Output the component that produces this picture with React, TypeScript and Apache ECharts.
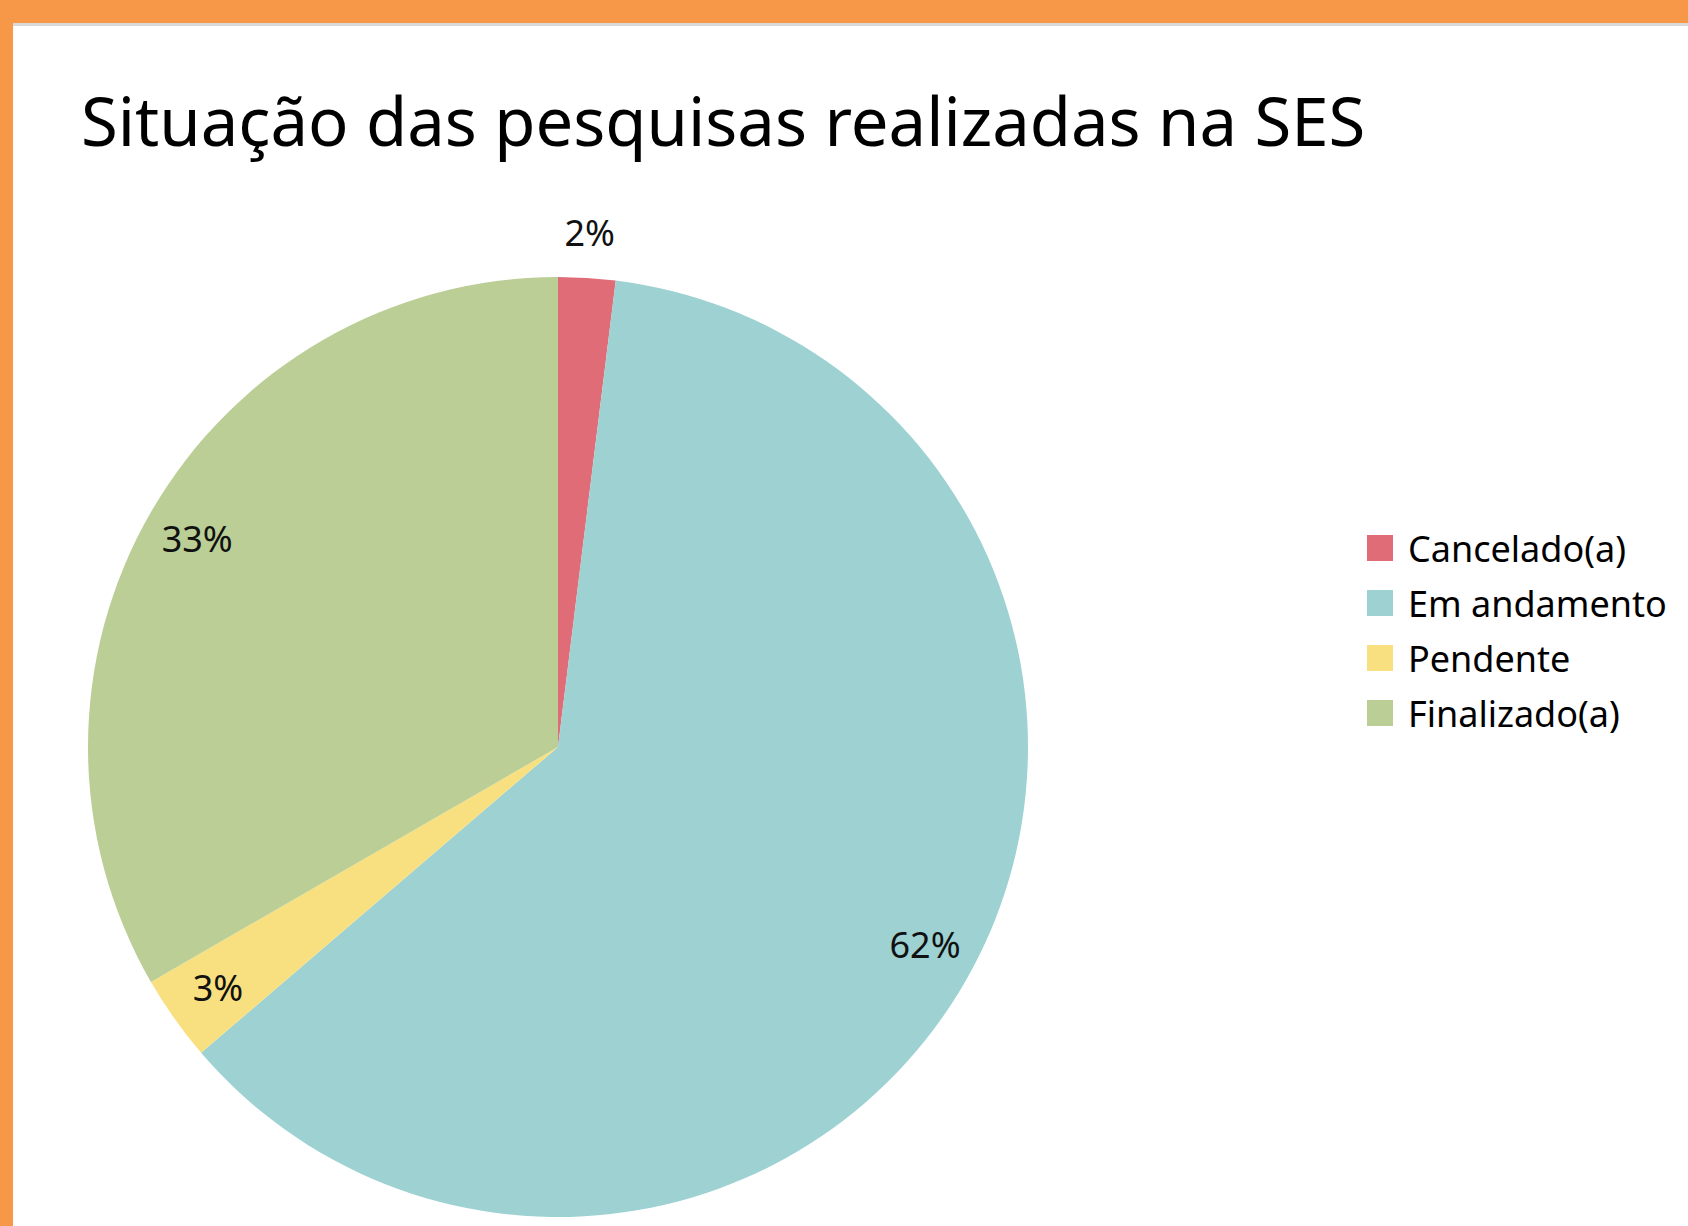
import React, { useEffect, useRef } from "react";
import * as echarts from "echarts";

const categories = ["Cancelado(a)", "Em andamento", "Pendente", "Finalizado(a)"];
const counts = [2, 63, 3, 34];
const labels = ["2%", "62%", "3%", "33%"];
const colors = ["#E06C78", "#9DD1D2", "#F8E080", "#BACE96"];
const titleText = "Situação das pesquisas realizadas na SES";

const FONT = "'Noto Sans', sans-serif";

export default function App() {
  const ref = useRef<HTMLDivElement>(null);
  useEffect(() => {
    if (!ref.current) return;
    const chart = echarts.init(ref.current, undefined, { renderer: "svg" });
    const cx = 558;
    const cy = 747;
    const r = 470;
    const baseData = categories.map((c, i) => ({
      name: c,
      value: counts[i],
      itemStyle: { color: colors[i] },
    }));
    const insideData = categories.map((c, i) => ({
      name: c,
      value: counts[i],
      itemStyle: { color: "rgba(0,0,0,0)" },
      label: { show: i !== 0, formatter: labels[i] },
    }));
    const outsideData = categories.map((c, i) => ({
      name: c,
      value: counts[i],
      itemStyle: { color: "rgba(0,0,0,0)" },
      label: { show: i === 0, formatter: labels[i] },
    }));
    const labelStyle = {
      position: "inside",
      color: "#111",
      fontFamily: FONT,
      fontSize: 36,
    };
    chart.setOption({
      animation: false,
      backgroundColor: "#ffffff",
      title: {
        text: titleText,
        left: 76,
        top: 81,
        textStyle: { fontFamily: FONT, fontSize: 67, fontWeight: "normal", color: "#000" },
      },
      legend: {
        orient: "vertical",
        left: 1362,
        top: 525,
        icon: "rect",
        itemWidth: 26,
        itemHeight: 26,
        itemGap: 19,
        selectedMode: false,
        data: categories,
        textStyle: {
          fontFamily: FONT,
          fontSize: 36,
          color: "#000",
          padding: [0, 0, 0, 10],
        },
      },
      graphic: [
        { type: "rect", shape: { x: 0, y: 0, width: 1688, height: 23 }, style: { fill: "#F79748" }, z: 100 },
        { type: "rect", shape: { x: 13, y: 23, width: 1675, height: 3 }, style: { fill: "#D9D9D9" }, z: 100 },
        { type: "rect", shape: { x: 0, y: 0, width: 13, height: 1226 }, style: { fill: "#F79748" }, z: 100 },
      ],
      series: [
        {
          type: "pie",
          center: [cx, cy],
          radius: [0, r],
          startAngle: 90,
          clockwise: true,
          label: { show: false },
          labelLine: { show: false },
          emphasis: { disabled: true },
          data: baseData,
        },
        {
          type: "pie",
          center: [cx, cy],
          radius: [r * 0.76, r],
          startAngle: 90,
          clockwise: true,
          silent: true,
          label: labelStyle,
          labelLine: { show: false },
          emphasis: { disabled: true },
          data: insideData,
        },
        {
          type: "pie",
          center: [cx, cy],
          radius: [r * 1.0, r * 1.18],
          startAngle: 90,
          clockwise: true,
          silent: true,
          label: labelStyle,
          labelLine: { show: false },
          emphasis: { disabled: true },
          data: outsideData,
        },
      ],
    });
    return () => chart.dispose();
  }, []);
  return (
    <div
      ref={ref}
      style={{ position: "fixed", left: 0, top: 0, width: 1688, height: 1226 }}
    />
  );
}
